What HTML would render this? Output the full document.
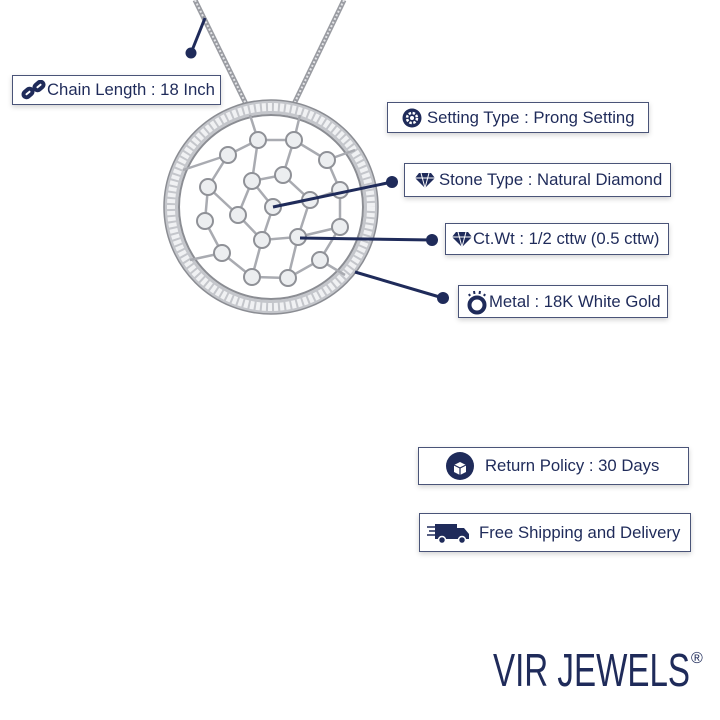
<!DOCTYPE html>
<html><head><style>
html,body{margin:0;padding:0;background:#fff;}
.b{position:absolute;box-sizing:border-box;border:1.5px solid #4a5478;background:#fff;box-shadow:0 2px 5px rgba(0,0,0,0.18);font-family:"Liberation Sans",sans-serif;color:#1f2b5a;font-size:16.7px;white-space:nowrap;display:flex;align-items:center;}
.b svg{flex:none}
</style></head><body>
<div style="position:relative;width:720px;height:720px;overflow:hidden;">
<svg width="720" height="720" style="position:absolute;left:0;top:0">
 <line x1="195" y1="0" x2="246" y2="104" stroke="#9a9ca2" stroke-width="5"/>
 <line x1="195" y1="0" x2="246" y2="104" stroke="#e4e5e8" stroke-width="2" stroke-dasharray="2 2"/>
 <line x1="344" y1="0" x2="294" y2="104" stroke="#9a9ca2" stroke-width="5"/>
 <line x1="344" y1="0" x2="294" y2="104" stroke="#e4e5e8" stroke-width="2" stroke-dasharray="2 2"/>
 <circle cx="271" cy="207" r="100" fill="none" stroke="#c4c6cb" stroke-width="14"/>
 <circle cx="271" cy="207" r="100" fill="none" stroke="#f0f1f3" stroke-width="8" stroke-dasharray="4 2"/>
 <circle cx="271" cy="207" r="107" fill="none" stroke="#8b8d93" stroke-width="1.5"/>
 <circle cx="271" cy="207" r="92" fill="none" stroke="#8b8d93" stroke-width="2"/>
 <g stroke="#a9abb1" stroke-width="2.5" fill="none">
  <polyline points="258,140 294,140 327,160 340,190 340,227 320,260 288,278 252,277 222,253 205,221 208,187 228,155 258,140"/>
  <polyline points="252,181 283,175 310,200 298,237 262,240 238,215 252,181"/>
  <line x1="273" y1="207" x2="252" y2="181"/><line x1="273" y1="207" x2="310" y2="200"/><line x1="273" y1="207" x2="262" y2="240"/>
  <line x1="258" y1="140" x2="252" y2="181"/><line x1="294" y1="140" x2="283" y2="175"/><line x1="208" y1="187" x2="238" y2="215"/>
  <line x1="340" y1="190" x2="310" y2="200"/><line x1="340" y1="227" x2="298" y2="237"/><line x1="252" y1="277" x2="262" y2="240"/>
  <line x1="288" y1="278" x2="298" y2="237"/><line x1="228" y1="155" x2="183" y2="170"/><line x1="327" y1="160" x2="355" y2="150"/>
  <line x1="222" y1="253" x2="190" y2="260"/><line x1="320" y1="260" x2="345" y2="275"/><line x1="258" y1="140" x2="250" y2="115"/><line x1="294" y1="140" x2="300" y2="115"/>
 </g>
 <g fill="#eceef0" stroke="#8f9197" stroke-width="2">
  <circle cx="258" cy="140" r="8"/><circle cx="294" cy="140" r="8"/><circle cx="228" cy="155" r="8"/><circle cx="327" cy="160" r="8"/>
  <circle cx="208" cy="187" r="8"/><circle cx="252" cy="181" r="8"/><circle cx="283" cy="175" r="8"/><circle cx="310" cy="200" r="8"/>
  <circle cx="340" cy="190" r="8"/><circle cx="238" cy="215" r="8"/><circle cx="273" cy="207" r="8"/><circle cx="205" cy="221" r="8"/>
  <circle cx="262" cy="240" r="8"/><circle cx="298" cy="237" r="8"/><circle cx="340" cy="227" r="8"/><circle cx="222" cy="253" r="8"/>
  <circle cx="320" cy="260" r="8"/><circle cx="252" cy="277" r="8"/><circle cx="288" cy="278" r="8"/>
 </g>
 <g stroke="#1f2b5a" stroke-width="3" fill="#1f2b5a">
  <line x1="191" y1="53" x2="205" y2="18"/><circle cx="191" cy="53" r="5.5" stroke="none"/>
  <line x1="273" y1="207" x2="392" y2="182"/><circle cx="392" cy="182" r="6" stroke="none"/>
  <line x1="300" y1="238" x2="432" y2="240"/><circle cx="432" cy="240" r="6" stroke="none"/>
  <line x1="355" y1="272" x2="443" y2="298"/><circle cx="443" cy="298" r="6" stroke="none"/>
 </g>
 <text x="493" y="686" font-family="Liberation Sans,sans-serif" font-size="46" fill="#1f2b5a" textLength="197" lengthAdjust="spacingAndGlyphs">VIR JEWELS</text>
 <text x="691" y="663" font-family="Liberation Sans,sans-serif" font-size="16" fill="#1f2b5a">®</text>
</svg>

<div class="b" style="left:12px;top:75px;width:209px;height:30px;padding-left:8px;">
 <svg width="26" height="20" viewBox="0 0 26 20"><g fill="none" stroke="#1f2b5a" stroke-width="4"><rect x="2" y="10" width="10" height="6" rx="3" transform="rotate(-40 7 13)"/><rect x="13" y="3" width="10" height="6" rx="3" transform="rotate(-40 18 6)"/></g></svg>Chain Length : 18 Inch</div>
<div class="b" style="left:387px;top:102px;width:262px;height:31px;padding-left:14px;">
 <svg width="20" height="20" viewBox="0 0 20 20" style="margin-right:5px"><circle cx="10" cy="10" r="9.5" fill="#1f2b5a"/><circle cx="10" cy="10" r="5" fill="none" stroke="#fff" stroke-width="2.5" stroke-dasharray="2.5 1.5"/><circle cx="10" cy="10" r="2" fill="#fff"/></svg>Setting Type : Prong Setting</div>
<div class="b" style="left:404px;top:163px;width:267px;height:34px;padding-left:10px;">
 <svg width="20" height="16" viewBox="0 0 20 16" style="margin-right:4px"><path d="M4 1h12l4 5-10 10L0 6z" fill="#1f2b5a"/><path d="M0 6h20M6 1l4 15M14 1l-4 15" stroke="#fff" stroke-width="1"/></svg>Stone Type : Natural Diamond</div>
<div class="b" style="left:445px;top:223px;width:224px;height:32px;padding-left:6px;">
 <svg width="20" height="16" viewBox="0 0 20 16" style="margin-right:1px"><path d="M4 1h12l4 5-10 10L0 6z" fill="#1f2b5a"/><path d="M0 6h20M6 1l4 15M14 1l-4 15" stroke="#fff" stroke-width="1"/></svg>Ct.Wt : 1/2 cttw (0.5 cttw)</div>
<div class="b" style="left:458px;top:285px;width:210px;height:33px;padding-left:6px;">
 <svg width="24" height="26" viewBox="0 0 24 26"><circle cx="12" cy="16" r="7.5" fill="none" stroke="#1f2b5a" stroke-width="4"/><g stroke="#1f2b5a" stroke-width="2"><line x1="4" y1="5" x2="5" y2="7"/><line x1="9" y1="2" x2="9.5" y2="5"/><line x1="15" y1="2" x2="14.5" y2="5"/><line x1="20" y1="5" x2="19" y2="7"/></g></svg>Metal : 18K White Gold</div>
<div class="b" style="left:418px;top:447px;width:271px;height:38px;padding-left:27px;">
 <svg width="28" height="28" viewBox="0 0 28 28" style="margin-right:11px"><circle cx="14" cy="14" r="14" fill="#1f2b5a"/><path d="M8 13l6-3 6 3v7l-6 3-6-3z" fill="#fff"/><path d="M8 13l6 3 6-3M14 16v7" stroke="#1f2b5a" stroke-width="1.2" fill="none"/></svg>Return Policy : 30 Days</div>
<div class="b" style="left:419px;top:513px;width:272px;height:39px;padding-left:7px;">
 <svg width="44" height="24" viewBox="0 0 44 24" style="margin-right:8px"><g stroke="#1f2b5a" stroke-width="1.5"><line x1="0" y1="6" x2="8" y2="6"/><line x1="2" y1="10" x2="8" y2="10"/><line x1="0" y1="14" x2="8" y2="14"/></g><rect x="8" y="3" width="22" height="15" fill="#1f2b5a"/><path d="M30 7h7l5 6v5H30z" fill="#1f2b5a"/><circle cx="15" cy="19" r="3.5" fill="#1f2b5a" stroke="#fff" stroke-width="1.5"/><circle cx="35" cy="19" r="3.5" fill="#1f2b5a" stroke="#fff" stroke-width="1.5"/></svg>Free Shipping and Delivery</div>
</div>
</body></html>
